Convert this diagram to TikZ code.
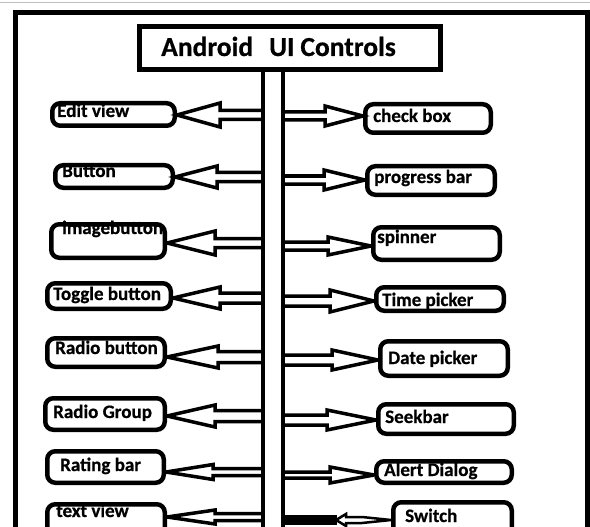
\documentclass[tikz,border=0pt]{standalone}
\usepackage{fontspec}
\setmainfont{Carlito}[BoldFeatures={FakeBold=0.6}]
\newcommand\CBox[5]{\node[ctrlbox, minimum width={#3-#2-4.5}, minimum height={#5-#4-4.5}] (#1) at ({(#2+#3)/2},{(#4+#5)/2}) {};}
% left arrow: #1 node, #2 y, #3 head base x, #4 head half, #5 shaft half
\newcommand\LArrow[5]{\draw[arrowline] (trunkL |- 0,{#2-#5}) -- (#3,{#2-#5}) -- (#3,{#2-#4}) -- (#1.east |- 0,#2) -- (#3,{#2+#4}) -- (#3,{#2+#5}) -- (trunkL |- 0,{#2+#5});}
\newcommand\RArrow[5]{\draw[arrowline] (trunkR |- 0,{#2-#5}) -- (#3,{#2-#5}) -- (#3,{#2-#4}) -- (#1.west |- 0,#2) -- (#3,{#2+#4}) -- (#3,{#2+#5}) -- (trunkR |- 0,{#2+#5});}
\begin{document}
\begin{tikzpicture}[x=1pt,y=-1pt,
  ctrlbox/.style={draw, line width=4.5pt, rounded corners=8pt, inner sep=0pt},
  lbl/.style={font=\bfseries\fontsize{19}{22}\selectfont, inner sep=0pt, anchor=base west},
  arrowline/.style={line width=3.5pt, line join=miter, miter limit=4},
  trunkline/.style={line width=4.5pt}]
\useasboundingbox (0,0) rectangle (590,527);
\clip (0,0) rectangle (590,527);
\fill[white] (0,0) rectangle (590,527);
\draw[black!25, line width=0.8pt] (0,2) -- (590,2);
% outer frame
\draw[line width=5pt] (15,12.5) rectangle (587.5,580);
% title
\node[draw, line width=5pt, minimum width=301pt, minimum height=43pt, inner sep=0pt] (title) at (289.5,48.5) {};
\node[anchor=base west, inner sep=0pt, font=\bfseries\fontsize{27.5}{32}\selectfont] (titletext) at (161,56) {Android\hspace{16pt}UI\hspace{6pt}Controls};
% trunk
\coordinate (trunkL) at (263,70);
\coordinate (trunkR) at (283,70);
\coordinate (trunkLb) at (263,560);
\coordinate (trunkRb) at (283,560);
\draw[trunkline] (trunkL) -- (trunkLb);
\draw[trunkline] (trunkR) -- (trunkRb);
% left boxes
\CBox{ev}{50}{177}{101}{128}
\CBox{bt}{53}{175}{163}{190}
\CBox{ib}{49}{167}{222}{260}
\CBox{tb}{45}{173}{281}{311}
\CBox{rb}{45}{167}{336}{369}
\CBox{rg}{43}{167}{396}{432}
\CBox{rt}{45}{166}{449}{485}
\CBox{tv}{45}{167}{502}{540}
% right boxes
\CBox{cb}{363}{493}{102}{135}
\CBox{pb}{365}{497}{164}{197}
\CBox{sp}{371}{502}{225}{262}
\CBox{tp}{374}{506}{285}{313}
\CBox{dp}{378}{510}{339}{378}
\CBox{sb}{376}{516}{402}{436}
\CBox{ad}{374}{514}{459}{485}
\CBox{sw}{391}{514}{500}{540}
% labels
\node[lbl] (ev-t) at (57,117) {Edit view};
\node[lbl] (bt-t) at (62,177) {Button};
\node[lbl] (ib-t) at (62,234) {imagebutton};
\node[lbl] (tb-t) at (53,300) {Toggle button};
\node[lbl] (rb-t) at (55,354) {Radio button};
\node[lbl] (rg-t) at (53,418) {Radio Group};
\node[lbl] (rt-t) at (60,471) {Rating bar};
\node[lbl] (tv-t) at (56,517) {text view};
\node[lbl] (cb-t) at (373,122) {check box};
\node[lbl] (pb-t) at (374,183) {progress bar};
\node[lbl] (sp-t) at (377,243) {spinner};
\node[lbl] (tp-t) at (382,306) {Time picker};
\node[lbl] (dp-t) at (388,364) {Date picker};
\node[lbl] (sb-t) at (385,423) {Seekbar};
\node[lbl] (ad-t) at (384,476) {Alert Dialog};
\node[lbl] (sw-t) at (405,522) {Switch};
% left arrows
\LArrow{ev}{115}{220}{12}{4.5}
\LArrow{bt}{177}{217}{11}{4.5}
\LArrow{ib}{243}{215}{12}{4.5}
\LArrow{tb}{298}{220}{11}{5}
\LArrow{rb}{357}{218}{11}{5.5}
\LArrow{rg}{416}{215}{11}{5.5}
\LArrow{rt}{472}{213}{7.5}{3.5}
\LArrow{tv}{517}{215}{7}{3.5}
% right arrows
\RArrow{cb}{116}{325}{10}{4}
\RArrow{pb}{180}{324}{10}{4}
\RArrow{sp}{246}{328}{9}{4}
\RArrow{tp}{301}{330}{11}{5}
\RArrow{dp}{360}{332}{10}{5}
\RArrow{sb}{420}{327}{10}{5}
\RArrow{ad}{475}{330}{8}{3}
% switch connector
\fill (trunkR |- 0,515) rectangle (337,525);
\draw[arrowline, line width=2.5pt] (336,520) -- (346,514) -- (346,517) -- (362,517) -- (sw.west |- 0,520) -- (362,523) -- (346,523) -- (346,526) -- cycle;
\end{tikzpicture}
\end{document}
